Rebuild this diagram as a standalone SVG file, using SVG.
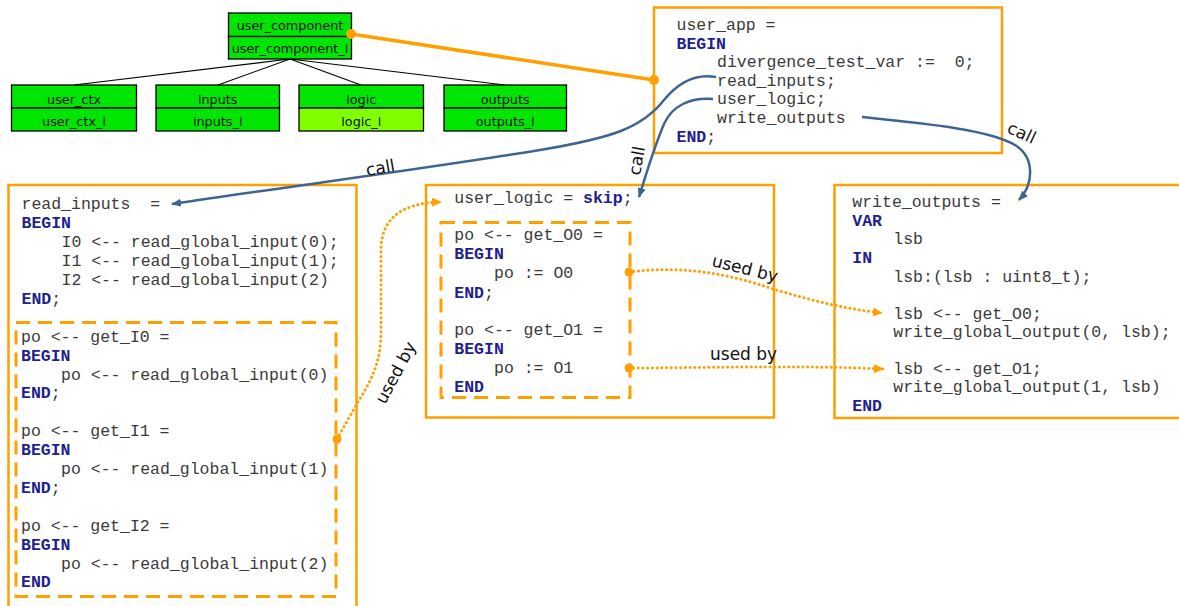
<svg xmlns="http://www.w3.org/2000/svg" width="1179" height="606" viewBox="0 0 1179 606">
<style>
.bg{fill:#ffffff}
.tb{stroke:#000;stroke-width:1.3}
.g{fill:#00e600}
.g2{fill:#80ff00}
.tt{font-family:"DejaVu Sans",sans-serif;font-size:12.8px;fill:#111;text-anchor:middle}
.edge{stroke:#000;stroke-width:1.1;fill:none}
.box{fill:none;stroke:#ffa000;stroke-width:2.5}
.dash{fill:none;stroke:#ffa000;stroke-width:3;stroke-dasharray:14 8}
.code{font-family:"Liberation Mono","Courier New",monospace;font-size:16.5px;fill:#3a3a3a;white-space:pre}
.kw{font-weight:bold;fill:#1f1f8f}
.call{fill:none;stroke:#3d6594;stroke-width:2.5}
.used{fill:none;stroke:#ffa000;stroke-width:3;stroke-dasharray:0.1 4.6;stroke-linecap:round}
.lbl{font-family:"DejaVu Sans",sans-serif;font-size:17px;fill:#111}
.odot{fill:#ffa000}
</style>
<defs>
<marker id="ab" markerWidth="10" markerHeight="8" refX="9" refY="4" orient="auto" markerUnits="userSpaceOnUse"><path d="M0,0 L10,4 L0,8 Z" fill="#3d6594"/></marker>
<marker id="ao" markerWidth="10" markerHeight="9" refX="9" refY="4.5" orient="auto" markerUnits="userSpaceOnUse"><path d="M0,0 L10,4.5 L0,9 Z" fill="#ffa000"/></marker>
</defs>
<rect class="bg" x="0" y="0" width="1179" height="606"/>

<g id="tree-edges">
<line class="edge" x1="290" y1="59" x2="74" y2="85"/>
<line class="edge" x1="290" y1="59" x2="218" y2="85"/>
<line class="edge" x1="290" y1="59" x2="361" y2="85"/>
<line class="edge" x1="290" y1="59" x2="505" y2="85"/>
</g>

<g id="user_component">
<rect class="g tb" x="228.5" y="13" width="123" height="23.5"/>
<rect class="g tb" x="228.5" y="36.5" width="123" height="22.5"/>
<text class="tt" x="290" y="29.5">user_component</text>
<text class="tt" x="290" y="52.5">user_component_i</text>
</g>
<g id="user_ctx">
<rect class="g tb" x="11.5" y="85" width="125" height="23"/>
<rect class="g tb" x="11.5" y="108" width="125" height="23"/>
<text class="tt" x="74" y="103.5">user_ctx</text>
<text class="tt" x="74" y="125.5">user_ctx_i</text>
</g>
<g id="inputs">
<rect class="g tb" x="156" y="85" width="123.5" height="23"/>
<rect class="g tb" x="156" y="108" width="123.5" height="23"/>
<text class="tt" x="217.7" y="103.5">inputs</text>
<text class="tt" x="217.7" y="125.5">inputs_i</text>
</g>
<g id="logic">
<rect class="g tb" x="299" y="85" width="124.5" height="23"/>
<rect class="g2 tb" x="299" y="108" width="124.5" height="23"/>
<text class="tt" x="361.3" y="103.5">logic</text>
<text class="tt" x="361.3" y="125.5">logic_i</text>
</g>
<g id="outputs">
<rect class="g tb" x="444" y="85" width="122.5" height="23"/>
<rect class="g tb" x="444" y="108" width="122.5" height="23"/>
<text class="tt" x="505.2" y="103.5">outputs</text>
<text class="tt" x="505.2" y="125.5">outputs_i</text>
</g>

<g id="user_app">
<rect class="box" x="654" y="7.5" width="348" height="145.5"/>
<text class="code" x="676.5" y="30">user_app =</text>
<text class="code kw" x="676.5" y="48.6">BEGIN</text>
<text class="code" x="717" y="67.2">divergence_test_var :=  0;</text>
<text class="code" x="717" y="85.8">read_inputs;</text>
<text class="code" x="717" y="104.4">user_logic;</text>
<text class="code" x="717" y="123">write_outputs</text>
<text class="code" x="676.5" y="141.6"><tspan class="kw">END</tspan>;</text>
</g>

<g id="read_inputs">
<rect class="box" x="8.5" y="185" width="348" height="425"/>
<text class="code" x="21.5" y="209">read_inputs  =</text>
<text class="code kw" x="21.5" y="228">BEGIN</text>
<text class="code" x="61.5" y="247">I0 &lt;-- read_global_input(0);</text>
<text class="code" x="61.5" y="266">I1 &lt;-- read_global_input(1);</text>
<text class="code" x="61.5" y="285">I2 &lt;-- read_global_input(2)</text>
<text class="code" x="21.5" y="304"><tspan class="kw">END</tspan>;</text>
</g>
<g id="get_I">
<rect class="dash" x="16" y="322.5" width="320" height="274"/>
<text class="code" x="21" y="341.7">po &lt;-- get_I0 =</text>
<text class="code kw" x="21" y="360.6">BEGIN</text>
<text class="code" x="61" y="379.5">po &lt;-- read_global_input(0)</text>
<text class="code" x="21" y="398.4"><tspan class="kw">END</tspan>;</text>
<text class="code" x="21" y="436.2">po &lt;-- get_I1 =</text>
<text class="code kw" x="21" y="455.1">BEGIN</text>
<text class="code" x="61" y="474">po &lt;-- read_global_input(1)</text>
<text class="code" x="21" y="492.9"><tspan class="kw">END</tspan>;</text>
<text class="code" x="21" y="530.7">po &lt;-- get_I2 =</text>
<text class="code kw" x="21" y="549.6">BEGIN</text>
<text class="code" x="61" y="568.5">po &lt;-- read_global_input(2)</text>
<text class="code kw" x="21" y="587.4">END</text>
</g>

<g id="user_logic">
<rect class="box" x="426" y="185" width="348" height="232.5"/>
<text class="code" x="454.3" y="203.3">user_logic = <tspan class="kw">skip</tspan>;</text>
</g>
<g id="get_O">
<rect class="dash" x="441" y="222.5" width="189" height="175"/>
<text class="code" x="454.3" y="240">po &lt;-- get_O0 =</text>
<text class="code kw" x="454.3" y="259.3">BEGIN</text>
<text class="code" x="494" y="278.3">po := O0</text>
<text class="code" x="454.3" y="297.7"><tspan class="kw">END</tspan>;</text>
<text class="code" x="454.3" y="335">po &lt;-- get_O1 =</text>
<text class="code kw" x="454.3" y="354">BEGIN</text>
<text class="code" x="494" y="372.7">po := O1</text>
<text class="code kw" x="454.3" y="391.7">END</text>
</g>

<g id="write_outputs">
<rect class="box" x="834.5" y="185" width="360" height="233"/>
<text class="code" x="852.3" y="206.7">write_outputs =</text>
<text class="code kw" x="852.3" y="225.7">VAR</text>
<text class="code" x="893.3" y="244.3">lsb</text>
<text class="code kw" x="852.3" y="262.7">IN</text>
<text class="code" x="893.3" y="281.7">lsb:(lsb : uint8_t);</text>
<text class="code" x="893.3" y="319">lsb &lt;-- get_O0;</text>
<text class="code" x="893.3" y="337.3">write_global_output(0, lsb);</text>
<text class="code" x="893.3" y="374">lsb &lt;-- get_O1;</text>
<text class="code" x="893.3" y="392.3">write_global_output(1, lsb)</text>
<text class="code kw" x="852.3" y="410.7">END</text>
</g>

<g id="connectors">
<line x1="351" y1="34" x2="654" y2="80" stroke="#ffa000" stroke-width="3.5"/>
<circle class="odot" cx="351" cy="34" r="5"/>
<circle class="odot" cx="654" cy="80" r="5"/>

<path class="call" d="M716,77 C694,73 677,84 664,100 C642,128 612,138 540,150 C430,168 300,185 172,204" marker-end="url(#ab)"/>
<path class="call" d="M713,99 C690,97 672,106 664,124 C653,150 646,175 639,197" marker-end="url(#ab)"/>
<path class="call" d="M862,117 C930,124 990,130 1015,145 C1036,158 1033,185 1019,200" marker-end="url(#ab)"/>
<text class="lbl" transform="translate(367,176) rotate(-10)">call</text>
<text class="lbl" transform="translate(640,176) rotate(-80)">call</text>
<text class="lbl" transform="translate(1006,132) rotate(25)">call</text>

<path class="used" d="M337,439 L358,402 C374,376 381,360 381,330 L381,250 C381,220 400,203 441,202" marker-end="url(#ao)"/>
<circle class="odot" cx="337" cy="439" r="4.5"/>
<path class="used" d="M629,272 C680,266 722,272 770,288 C805,299 845,309 882,313" marker-end="url(#ao)"/>
<circle class="odot" cx="629" cy="272" r="4.5"/>
<path class="used" d="M629,368 C700,368 800,365 883,369" marker-end="url(#ao)"/>
<circle class="odot" cx="629" cy="368" r="4.5"/>
<text class="lbl" transform="translate(385,405) rotate(-62)">used by</text>
<text class="lbl" transform="translate(711,266) rotate(14)">used by</text>
<text class="lbl" x="710" y="360">used by</text>
</g>
</svg>
